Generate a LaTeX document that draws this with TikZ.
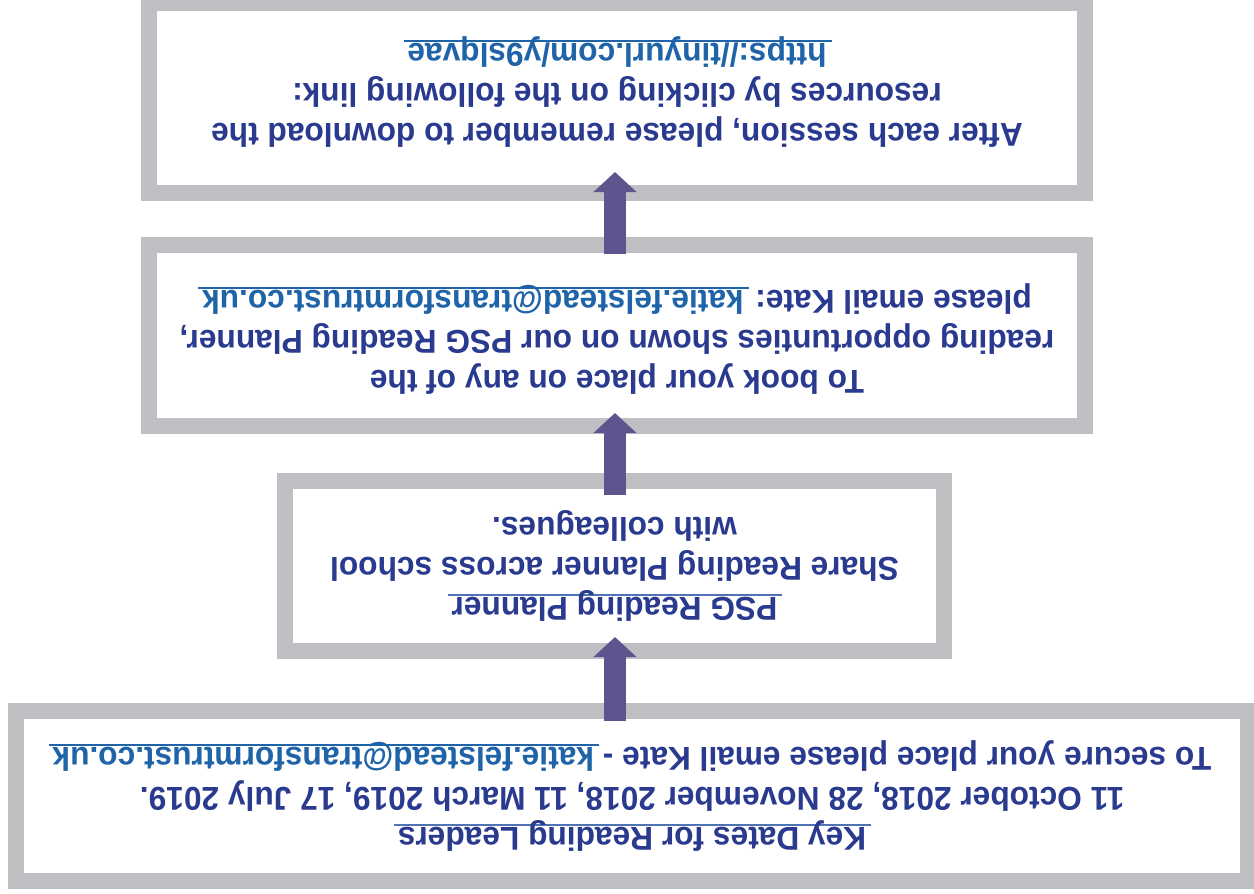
\documentclass[tikz,border=0pt]{standalone}
\usepackage{fontspec}
\setmainfont{Liberation Sans}[FakeStretch=0.96]
\usetikzlibrary{arrows.meta,calc}
\definecolor{boxgray}{RGB}{190,191,195}
\definecolor{navy}{RGB}{41,58,143}
\definecolor{linkblue}{RGB}{31,100,168}
\definecolor{arrowpurple}{RGB}{96,84,142}
\definecolor{ulblue}{RGB}{80,115,180}
\newcommand\myul[2]{\setbox0\hbox{#2}\rlap{\color{#1}\kern-5pt\rule[-3.5pt]{\dimexpr\wd0+9pt\relax}{1.6pt}}\box0}
\begin{document}
\begin{tikzpicture}[x=1pt,y=-1pt,
  box/.style={draw=boxgray, line width=16pt, fill=white, inner sep=0pt, outer sep=8pt, rectangle},
  txt/.style={rotate=180, text=navy, align=center, inner sep=0pt, font=\bfseries\fontsize{33}{40}\selectfont},
  flow/.style={draw=arrowpurple, line width=22pt, -{Triangle[width=42pt,length=20pt]}}]
\useasboundingbox (0,0) rectangle (1254,894);
\node[box, minimum width=1232pt, minimum height=170pt] (b4) at (632,796) {};
\node[box, minimum width=659pt, minimum height=170pt] (b3) at (614.5,566) {};
\node[box, minimum width=936pt, minimum height=181pt] (b2) at (617,335.5) {};
\node[box, minimum width=936pt, minimum height=190pt] (b1) at (617,98) {};
\draw[flow] ($(b4.north)+(-17,18)$) -- ($(b3.south)+(0.5,-22)$);
\draw[flow] ($(b3.north)+(0.5,22)$) -- ($(b2.south)+(-2,-21)$);
\draw[flow] ($(b2.north)+(-2,17)$) -- ($(b1.south)+(-2,-29)$);
\node[txt] (t4) at (b4.center) {\myul{ulblue}{Key Dates for Reading Leaders}\\
11 October 2018, 28 November 2018, 11 March 2019, 17 July 2019.\\
To secure your place please email Kate - {\color{linkblue}\myul{linkblue}{katie.felstead@transformtrust.co.uk}}};
\node[txt] (t3) at (b3.center) {\myul{ulblue}{PSG Reading Planner}\\
Share Reading Planner across school\\
with colleagues.};
\node[txt] (t2) at ($(b2.center)+(0,4)$) {To book your place on any of the\\
reading opportunties shown on our PSG Reading Planner,\\
please email Kate: {\color{linkblue}\myul{linkblue}{katie.felstead@transformtrust.co.uk}}};
\node[txt] (t1) at ($(b1.center)+(0,-6)$) {After each session, please remember to download the\\
resources by clicking on the following link:\\
{\color{linkblue}\myul{linkblue}{https://tinyurl.com/y9slqvae}}};
\end{tikzpicture}
\end{document}
